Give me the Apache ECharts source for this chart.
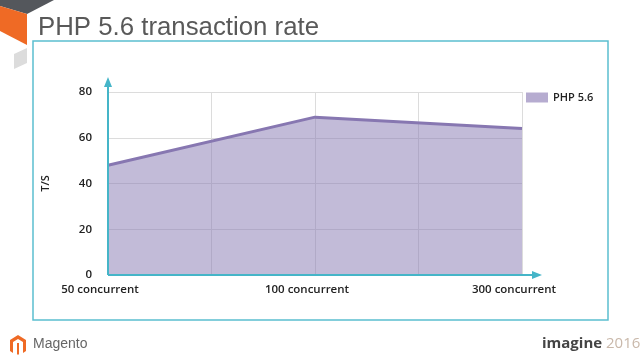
<!DOCTYPE html>
<html><head><meta charset="utf-8">
<script src="https://cdn.jsdelivr.net/npm/echarts@6/dist/echarts.min.js"></script>
<style>html,body{margin:0;padding:0;background:#fff}#c{width:640px;height:360px}</style>
</head><body><div id="c"></div>
<script>
var categories = ["50 concurrent", "100 concurrent", "300 concurrent"];
var seriesName = "PHP 5.6";
var values = [48, 69, 64];
var yTicks = [0, 20, 40, 60, 80];
var titleText = "PHP 5.6 transaction rate";
var yAxisName = "T/S";

var chart = echarts.init(document.getElementById('c'), null, {renderer: 'canvas'});
var data = values.map(function (v, i) { return [i, v]; });
var teal = '#45b5c8';
var font = '"Open Sans", "Noto Sans", sans-serif';

var option = {
  backgroundColor: '#fff',
  animation: false,
  title: {
    text: titleText, left: 38, top: 15, padding: 0,
    textStyle: {fontFamily: '"Liberation Sans", Arial, sans-serif', fontSize: 25.8, fontWeight: 'normal', color: '#595959'}
  },
  legend: {
    data: [{name: seriesName, icon: 'rect', itemStyle: {color: '#b6acd0'}}],
    left: 526, top: 92, padding: 0, itemWidth: 22, itemHeight: 10, itemGap: 5,
    textStyle: {fontFamily: font, fontSize: 11, fontWeight: 600, color: '#222'}
  },
  grid: {left: 108, right: 118, top: 92, bottom: 85},
  xAxis: {
    type: 'value', min: 0, max: categories.length - 1, interval: 0.5,
    axisLine: {show: false}, axisTick: {show: false},
    splitLine: {show: true, lineStyle: {color: '#dcdcdc', width: 1}},
    axisLabel: {
      margin: 9, fontFamily: font, fontSize: 11.5, fontWeight: 600, color: '#222',
      padding: [0, 16, 0, 0],
      formatter: function (v) { return Number.isInteger(v) ? categories[v] : ''; }
    }
  },
  yAxis: {
    type: 'value', min: yTicks[0], max: yTicks[yTicks.length - 1], interval: yTicks[1] - yTicks[0],
    name: yAxisName, nameLocation: 'middle', nameGap: 57,
    nameTextStyle: {fontFamily: font, fontSize: 11, fontWeight: 600, color: '#222'},
    axisLine: {show: false}, axisTick: {show: false},
    splitLine: {show: true, lineStyle: {color: '#dcdcdc', width: 1}},
    axisLabel: {margin: 16, fontFamily: font, fontSize: 11.5, fontWeight: 600, color: '#222'}
  },
  series: [{
    name: seriesName, type: 'line', data: data, symbol: 'none',
    lineStyle: {color: '#8777b1', width: 3},
    itemStyle: {color: '#8777b1'},
    areaStyle: {color: '#8a7cb5', opacity: 0.52},
    z: 1
  }]
};
chart.setOption(option);

var o = chart.convertToPixel({gridIndex: 0}, [0, 0]);
var xEnd = chart.convertToPixel({gridIndex: 0}, [categories.length - 1, 0]);
var yEnd = chart.convertToPixel({gridIndex: 0}, [0, yTicks[yTicks.length - 1]]);
var ox = o[0], oy = o[1];
var xTip = xEnd[0] + 20, yTip = yEnd[1] - 15;

chart.setOption({
  graphic: [
    {type: 'polygon', shape: {points: [[0, 0], [54, 0], [27, 14], [0, 6]]}, style: {fill: '#54575c'}, z: 10},
    {type: 'polygon', shape: {points: [[0, 6], [27, 14], [27, 45], [0, 31]]}, style: {fill: '#ef6a25'}, z: 10},
    {type: 'polygon', shape: {points: [[14, 54], [27, 48], [27, 63], [14, 69]]}, style: {fill: '#dcdcdc'}, z: 10},
    {type: 'rect', shape: {x: 33, y: 41, width: 575, height: 279}, style: {fill: 'none', stroke: '#5bbfd0', lineWidth: 1.5}, z: 0, silent: true},
    {type: 'line', shape: {x1: ox, y1: oy, x2: xTip - 8, y2: oy}, style: {stroke: teal, lineWidth: 2}, z: 20},
    {type: 'polygon', shape: {points: [[xTip - 10, oy - 4], [xTip, oy], [xTip - 10, oy + 4]]}, style: {fill: teal}, z: 20},
    {type: 'line', shape: {x1: ox, y1: oy, x2: ox, y2: yTip + 8}, style: {stroke: teal, lineWidth: 2}, z: 20},
    {type: 'polygon', shape: {points: [[ox - 4, yTip + 10], [ox, yTip], [ox + 4, yTip + 10]]}, style: {fill: teal}, z: 20},
    {type: 'polygon', shape: {points: [[10, 340], [18, 335], [26, 340], [26, 351], [23, 353], [23, 342], [18, 339], [13, 342], [13, 353], [10, 351]]}, style: {fill: '#ef6a25'}, z: 10},
    {type: 'polygon', shape: {points: [[17, 343], [19, 343], [19, 354], [18, 355], [17, 354]]}, style: {fill: '#ef6a25'}, z: 10},
    {type: 'text', left: 33, top: 337, style: {text: 'Magento', fill: '#666', font: '14px "Liberation Sans", Arial, sans-serif'}, z: 10},
    {type: 'text', left: 542, top: 336, style: {text: 'imagine', fill: '#444', font: 'bold 15px "Open Sans", sans-serif'}, z: 10},
    {type: 'text', left: 606, top: 336, style: {text: '2016', fill: '#c9b8aa', font: '15px "Open Sans", sans-serif'}, z: 10}
  ]
});
</script></body></html>
